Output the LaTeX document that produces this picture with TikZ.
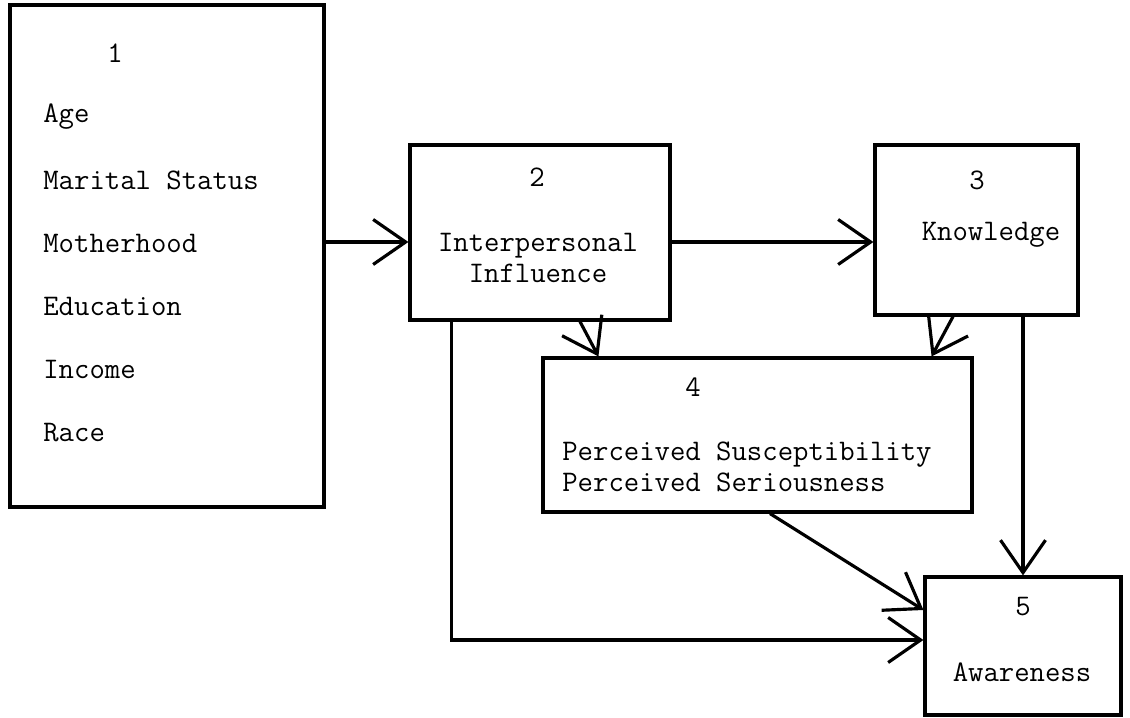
\documentclass[tikz,border=0pt]{standalone}
\usetikzlibrary{arrows.meta,positioning,calc}
\tikzset{
  blk/.style={draw, line width=1.8pt, inner sep=0pt},
  lbl/.style={font=\ttfamily\fontsize{17}{17.6}\selectfont, inner sep=0pt},
  flow/.style={-{Straight Barb[length=6.5mm, width=9mm]}, line width=1.8pt},
}
\begin{document}
\begin{tikzpicture}
\useasboundingbox (0,0) rectangle (22.6,-14.36);
% boxes
\node[blk, minimum width=6.28cm, minimum height=10.04cm] (b1) at (3.34,-5.12) {};
\node[blk, minimum width=5.20cm, minimum height=3.50cm] (b2) at (10.80,-4.65) {};
\node[blk, minimum width=4.06cm, minimum height=3.40cm] (b3) at (19.53,-4.60) {};
\node[blk, minimum width=8.58cm, minimum height=3.08cm] (b4) at (15.15,-8.70) {};
\node[blk, minimum width=3.92cm, minimum height=2.76cm] (b5) at (20.46,-12.92) {};
% texts
\node[lbl] (n1) at (2.30,-1.06) {1};
\foreach \t [count=\i] in {Age, Marital Status, Motherhood, Education, Income, Race}{
  \node[lbl, anchor=west] (v\i) at (0.86,{-2.34-1.264*(\i-1)}) {\t};}
\node[lbl] (n2) at (10.74,-3.54) {2};
\node[lbl, align=center] (t2) at (10.76,-5.16) {Interpersonal\\Influence};
\node[lbl] (n3) at (19.54,-3.60) {3};
\node[lbl] (t3) at (19.82,-4.70) {Knowledge};
\node[lbl] (n4) at (13.86,-7.74) {4};
\node[lbl, align=left, anchor=west] (t4) at (11.24,-9.34) {Perceived Susceptibility\\Perceived Seriousness};
\node[lbl] (n5) at (20.46,-12.14) {5};
\node[lbl] (t5) at (20.44,-13.44) {Awareness};
% connectors
\coordinate (m12) at (0,-4.84);
\draw[flow] (b1.east |- m12) -- (b2.west |- m12);
\draw[flow] (b2.east |- m12) -- (b3.west |- m12);
\draw[flow] ([xshift=0.8cm]b2.south) -- ([xshift=1.14cm]b4.north west);
\draw[flow] ([xshift=-0.47cm]b3.south) -- ([xshift=-0.84cm]b4.north east);
\draw[flow] (b3.south -| b5.north) -- (b5.north);
\draw[flow] ([xshift=0.25cm]b4.south) -- ([yshift=0.72cm]b5.west);
\draw[flow] ([xshift=0.86cm]b2.south west) |- ([yshift=0.12cm]b5.west);
\end{tikzpicture}
\end{document}
